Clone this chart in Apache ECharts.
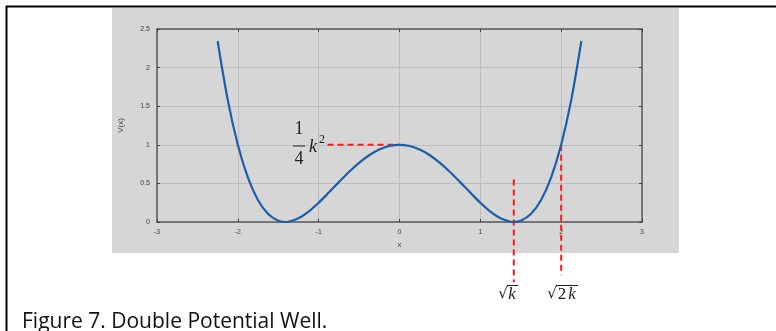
<!DOCTYPE html>
<html>
<head>
<meta charset="utf-8">
<script src="https://cdn.jsdelivr.net/npm/echarts@6/dist/echarts.min.js"></script>
<style>
  html, body { margin: 0; padding: 0; background: #ffffff; }
  #chart { width: 776px; height: 331px; }
</style>
</head>
<body>
<div id="chart"></div>
<script>
// Double-well potential V(x), sampled along x
const xValues = [-2.25, -2.125, -2.0, -1.875, -1.75, -1.625, -1.5, -1.4142, -1.375, -1.25, -1.125, -1.0,
  -0.875, -0.75, -0.625, -0.5, -0.375, -0.25, -0.125, 0,
  0.125, 0.25, 0.375, 0.5, 0.625, 0.75, 0.875, 1.0, 1.125, 1.25, 1.375, 1.4142, 1.5, 1.625, 1.75, 1.875, 2.0, 2.125, 2.25];
const vValues = [2.3447, 1.5821, 1.0, 0.5743, 0.2822, 0.1026, 0.0156, 0.0, 0.0030, 0.0479, 0.1348, 0.25,
  0.3809, 0.5166, 0.6475, 0.7656, 0.8643, 0.9385, 0.9844, 1.0,
  0.9844, 0.9385, 0.8643, 0.7656, 0.6475, 0.5166, 0.3809, 0.25, 0.1348, 0.0479, 0.0030, 0.0, 0.0156, 0.1026, 0.2822, 0.5743, 1.0, 1.5821, 2.3447];

// Axis ticks
const xTicks = [-3, -2, -1, 0, 1, 2, 3];
const yTicks = [0, 0.5, 1, 1.5, 2, 2.5];

// Guide lines: barrier height k^2/4, minimum at sqrt(k), V = k^2/4 again at sqrt(2k)
const barrierLine = [[-0.89, 1.0], [0, 1.0]];
const sqrtKLine = [[1.4142, 0.55], [1.4142, -0.78]];
const sqrt2KLine = [[2.0, 1.0], [2.0, -0.69]];

const curve = xValues.map((x, i) => [x, vValues[i]]);

const tickFont = { fontSize: 7, color: '#444', fontFamily: 'Liberation Sans' };
const axisLine = { onZero: false, lineStyle: { color: '#5a5a5a', width: 1.5 } };
const tick = { show: true, inside: true, length: 3, lineStyle: { color: '#444', width: 1 } };

const guideStyle = { color: '#ff1a1a', width: 2, type: [6, 4] };
function guide(data) {
  return {
    type: 'line', data: data, symbol: 'none', clip: false, silent: true, z: 4,
    lineStyle: guideStyle, animation: false
  };
}

const chart = echarts.init(document.getElementById('chart'), null, { renderer: 'canvas' });

const mathFont = 'Liberation Serif';
chart.setOption({
  backgroundColor: '#ffffff',
  animation: false,
  grid: { left: 157, right: 134, top: 29, bottom: 109, show: true, backgroundColor: '#d6d6d6', borderWidth: 0 },
  xAxis: [{
    type: 'value', min: xTicks[0], max: xTicks[xTicks.length - 1], interval: 1,
    name: 'x', nameLocation: 'middle', nameGap: 19,
    nameTextStyle: { fontSize: 8, color: '#444', fontFamily: 'Liberation Sans' },
    axisLine: axisLine, axisTick: tick,
    axisLabel: Object.assign({ margin: 7 }, tickFont),
    splitLine: { show: true, lineStyle: { color: '#bdbdbd', width: 1 } }
  }, {
    type: 'value', position: 'top', min: xTicks[0], max: xTicks[xTicks.length - 1], interval: 1,
    axisLine: axisLine, axisTick: tick, axisLabel: { show: false }, splitLine: { show: false }
  }],
  yAxis: [{
    type: 'value', min: yTicks[0], max: yTicks[yTicks.length - 1], interval: 0.5,
    name: 'V(x)', nameLocation: 'middle', nameGap: 32, nameRotate: 90,
    nameTextStyle: { fontSize: 8, color: '#444', fontFamily: 'Liberation Sans' },
    axisLine: axisLine, axisTick: tick,
    axisLabel: Object.assign({ margin: 7 }, tickFont),
    splitLine: { show: true, lineStyle: { color: '#bdbdbd', width: 1 } }
  }, {
    type: 'value', position: 'right', min: yTicks[0], max: yTicks[yTicks.length - 1], interval: 0.5,
    axisLine: axisLine, axisTick: tick, axisLabel: { show: false }, splitLine: { show: false }
  }],
  series: [
    guide(barrierLine),
    guide(sqrtKLine),
    guide(sqrt2KLine),
    {
      type: 'line', data: curve, symbol: 'none', smooth: 0.3, z: 5,
      lineStyle: { color: '#1a5fa8', width: 2.2 }
    }
  ],
  graphic: [
    // grey figure panel
    { type: 'rect', z: -10, shape: { x: 112, y: 8, width: 567, height: 245 }, style: { fill: '#d6d6d6' } },
    // page frame
    { type: 'line', z: 10, shape: { x1: 6, y1: 6.5, x2: 776, y2: 6.5 }, style: { stroke: '#000', lineWidth: 2 } },
    { type: 'line', z: 10, shape: { x1: 6.5, y1: 6, x2: 6.5, y2: 331 }, style: { stroke: '#000', lineWidth: 2 } },
    // 1/4 k^2
    { type: 'text', z: 10, style: { text: '1', x: 299, y: 129, fontFamily: mathFont, fontSize: 18, fill: '#222', align: 'center', verticalAlign: 'middle' } },
    { type: 'line', z: 10, shape: { x1: 293, y1: 146, x2: 305, y2: 146 }, style: { stroke: '#222', lineWidth: 1 } },
    { type: 'text', z: 10, style: { text: '4', x: 299, y: 159, fontFamily: mathFont, fontSize: 18, fill: '#222', align: 'center', verticalAlign: 'middle' } },
    { type: 'text', z: 10, style: { text: 'k', x: 313, y: 147, fontFamily: mathFont, fontStyle: 'italic', fontSize: 18, fill: '#222', align: 'center', verticalAlign: 'middle' } },
    { type: 'text', z: 10, style: { text: '2', x: 322, y: 140, fontFamily: mathFont, fontSize: 12, fill: '#222', align: 'center', verticalAlign: 'middle' } },
    // sqrt(k)
    { type: 'text', z: 10, style: { text: '√', x: 503, y: 294, fontFamily: 'DejaVu Serif', fontSize: 15, fill: '#222', align: 'center', verticalAlign: 'middle' } },
    { type: 'line', z: 10, shape: { x1: 507, y1: 285.5, x2: 518, y2: 285.5 }, style: { stroke: '#222', lineWidth: 1 } },
    { type: 'text', z: 10, style: { text: 'k', x: 512, y: 295, fontFamily: mathFont, fontStyle: 'italic', fontSize: 17, fill: '#222', align: 'center', verticalAlign: 'middle' } },
    // sqrt(2k)
    { type: 'text', z: 10, style: { text: '√', x: 552, y: 294, fontFamily: 'DejaVu Serif', fontSize: 15, fill: '#222', align: 'center', verticalAlign: 'middle' } },
    { type: 'line', z: 10, shape: { x1: 556, y1: 285.5, x2: 578, y2: 285.5 }, style: { stroke: '#222', lineWidth: 1 } },
    { type: 'text', z: 10, style: { text: '2', x: 562, y: 295, fontFamily: mathFont, fontSize: 17, fill: '#222', align: 'center', verticalAlign: 'middle' } },
    { type: 'text', z: 10, style: { text: 'k', x: 572, y: 295, fontFamily: mathFont, fontStyle: 'italic', fontSize: 17, fill: '#222', align: 'center', verticalAlign: 'middle' } },
    // caption
    { type: 'text', z: 10, style: { text: 'Figure 7. Double Potential Well.', x: 22, y: 333, fontFamily: 'Open Sans', fontSize: 21, fill: '#111', align: 'left', verticalAlign: 'bottom' } }
  ]
});
</script>
</body>
</html>
